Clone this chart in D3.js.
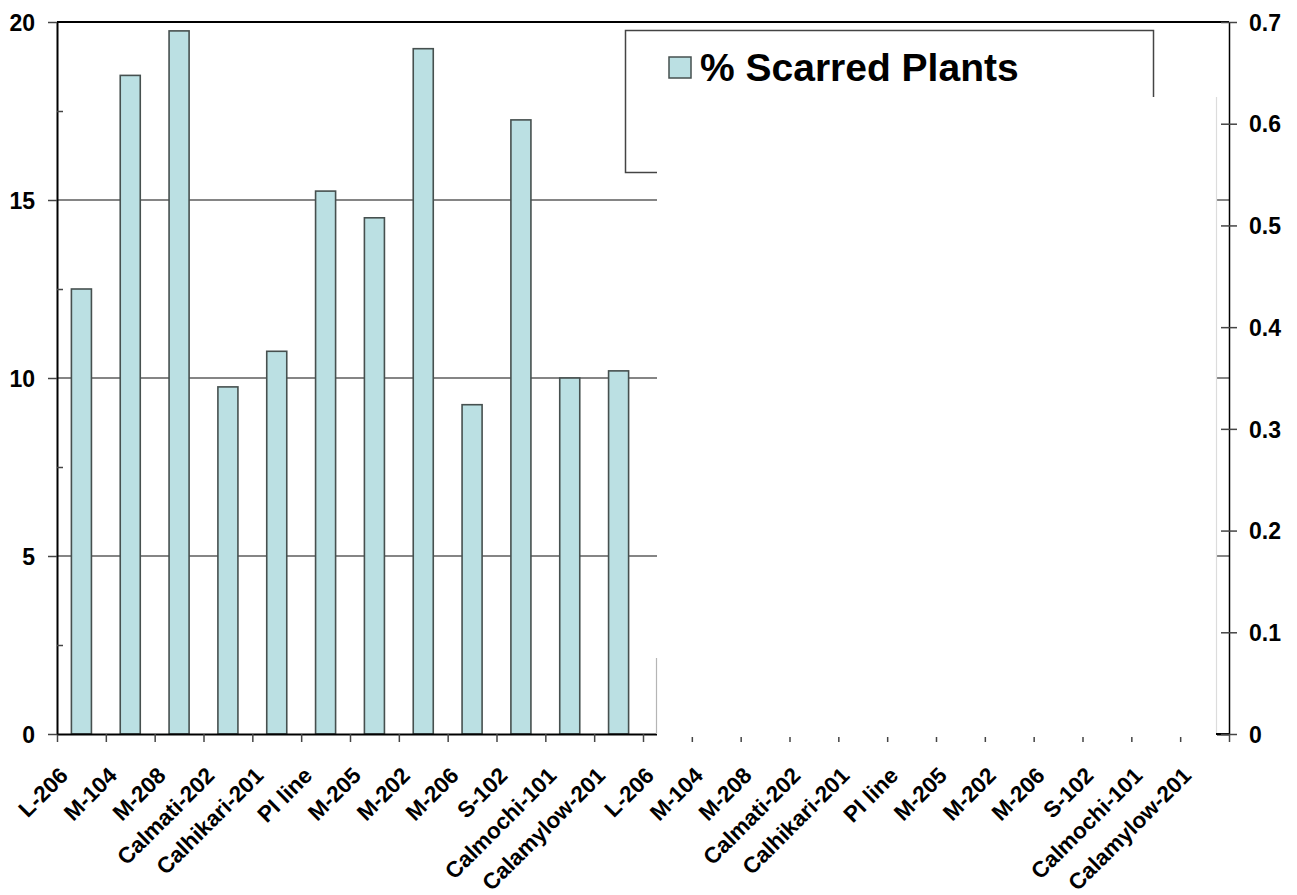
<!DOCTYPE html>
<html>
<head>
<meta charset="utf-8">
<script src="https://cdn.jsdelivr.net/npm/d3@7"></script>
<style>
  body { margin: 0; background: #fff; }
  svg text { font-family: "Liberation Sans", Arial, sans-serif; font-weight: bold; }
</style>
</head>
<body>
<svg width="1297" height="895"></svg>
<script>
// categories and values
var categories = ["L-206", "M-104", "M-208", "Calmati-202", "Calhikari-201", "PI line",
    "M-205", "M-202", "M-206", "S-102", "Calmochi-101", "Calamylow-201"];
var scarred = [12.5, 18.5, 19.75, 9.75, 10.75, 15.25, 14.5, 19.25, 9.25, 17.25, 10, 10.2];
var leftTicks = [0, 5, 10, 15, 20];
var leftMinor = [2.5, 7.5, 12.5, 17.5];
var rightTicks = [0, 0.1, 0.2, 0.3, 0.4, 0.5, 0.6, 0.7];
var legendLabel = "% Scarred Plants";

// the category axis shows the list twice
var labels = categories.concat(categories);

window.onload = function() {
    makeChart();
}

function makeChart() {
    var svg = d3.select("svg");

    var left = 57, right = 1229, top = 22, bottom = 734;

    var x = d3.scaleBand()
        .domain(d3.range(labels.length))
        .range([left, right])
        .paddingInner(0.59)
        .paddingOuter(0.295);

    // edges between categories, for tick marks
    var xEdge = d3.scaleLinear()
        .domain([0, labels.length])
        .range([left, right]);

    var y = d3.scaleLinear().domain([0, 20]).range([bottom, top]);
    var yR = d3.scaleLinear().domain([0, 0.7]).range([bottom, top]);

    // gridlines
    svg.append("g")
        .selectAll("line")
        .data([5, 10, 15])
        .enter().append("line")
        .attr("x1", left).attr("x2", right)
        .attr("y1", function(d) { return y(d); })
        .attr("y2", function(d) { return y(d); })
        .attr("stroke", "#5c5c5c")
        .attr("stroke-width", 1.5);

    // top border
    svg.append("line")
        .attr("x1", left).attr("x2", right)
        .attr("y1", y(20)).attr("y2", y(20))
        .attr("stroke", "#000")
        .attr("stroke-width", 2);

    // bars
    svg.append("g")
        .selectAll("rect")
        .data(scarred)
        .enter().append("rect")
        .attr("x", function(d, i) { return x(i); })
        .attr("y", function(d) { return y(d); })
        .attr("width", x.bandwidth())
        .attr("height", function(d) { return y(0) - y(d); })
        .attr("fill", "#bbe0e3")
        .attr("stroke", "#46504f")
        .attr("stroke-width", 1.6);

    // x axis with ticks between categories
    var gx = svg.append("g")
        .attr("transform", "translate(0," + bottom + ")")
        .call(d3.axisBottom(xEdge).tickValues(d3.range(labels.length + 1))
            .tickFormat("").tickSize(8).tickSizeOuter(0));
    gx.select(".domain").attr("stroke", "#000").attr("stroke-width", 2);
    gx.selectAll(".tick line").attr("stroke", "#444").attr("stroke-width", 1.5);

    svg.append("g")
        .selectAll("text")
        .data(labels)
        .enter().append("text")
        .attr("transform", function(d, i) {
            return "translate(" + (x(i) + x.bandwidth() / 2 - 12) + "," + 777 + ") rotate(-45)";
        })
        .attr("text-anchor", "end")
        .attr("font-size", 22.5)
        .attr("fill", "#000")
        .text(function(d) { return d; });

    // left axis
    var gy = svg.append("g")
        .attr("transform", "translate(" + left + ",0)")
        .call(d3.axisLeft(y).tickValues(leftTicks).tickSize(9).tickPadding(13).tickSizeOuter(0));
    gy.select(".domain").attr("stroke", "#000").attr("stroke-width", 2);
    gy.selectAll(".tick line").attr("stroke", "#444").attr("stroke-width", 1.5);
    gy.selectAll("text").attr("font-size", 23).attr("fill", "#000").attr("dy", "0.36em");

    var gyMinor = svg.append("g")
        .attr("transform", "translate(" + left + ",0)")
        .call(d3.axisRight(y).tickValues(leftMinor).tickSize(6).tickFormat("").tickSizeOuter(0));
    gyMinor.select(".domain").remove();
    gyMinor.selectAll(".tick line").attr("stroke", "#444").attr("stroke-width", 1.5);

    // legend
    var legend = svg.append("g");
    legend.append("rect")
        .attr("x", 625.5).attr("y", 30.5)
        .attr("width", 528).attr("height", 142)
        .attr("fill", "#fff")
        .attr("stroke", "#444")
        .attr("stroke-width", 1.5);
    legend.append("rect")
        .attr("x", 669).attr("y", 57)
        .attr("width", 22).attr("height", 21)
        .attr("fill", "#bbe0e3")
        .attr("stroke", "#46504f")
        .attr("stroke-width", 1.5);
    legend.append("text")
        .attr("x", 700).attr("y", 81)
        .attr("font-size", 39)
        .attr("fill", "#000")
        .text(legendLabel);

    // blank patch over the right half of the plot
    svg.append("rect")
        .attr("x", 657).attr("y", 97)
        .attr("width", 560).attr("height", 640)
        .attr("fill", "#fff");
    svg.append("line")
        .attr("x1", 656.5).attr("x2", 656.5)
        .attr("y1", 658).attr("y2", bottom)
        .attr("stroke", "#b5b5b5").attr("stroke-width", 1.2);
    svg.append("line")
        .attr("x1", 1216.5).attr("x2", 1216.5)
        .attr("y1", 97).attr("y2", bottom)
        .attr("stroke", "#dcdcdc").attr("stroke-width", 1.2);
    svg.append("line")
        .attr("x1", 1216).attr("x2", right)
        .attr("y1", bottom).attr("y2", bottom)
        .attr("stroke", "#000").attr("stroke-width", 2);

    // right axis, ticks cross the line
    var gr = svg.append("g")
        .attr("transform", "translate(" + right + ",0)")
        .call(d3.axisRight(yR).tickValues(rightTicks).tickSize(8).tickPadding(12).tickSizeOuter(0)
            .tickFormat(function(d) { return d === 0 ? "0" : d3.format(".1f")(d); }));
    gr.select(".domain").attr("stroke", "#000").attr("stroke-width", 1.5);
    gr.selectAll(".tick line").attr("stroke", "#444").attr("stroke-width", 1.5);
    gr.selectAll("text").attr("font-size", 23).attr("fill", "#000").attr("dy", "0.36em");

    var grIn = svg.append("g")
        .attr("transform", "translate(" + right + ",0)")
        .call(d3.axisLeft(yR).tickValues(rightTicks).tickSize(8).tickFormat("").tickSizeOuter(0));
    grIn.select(".domain").remove();
    grIn.selectAll(".tick line").attr("stroke", "#444").attr("stroke-width", 1.5);
}
</script>
</body>
</html>
